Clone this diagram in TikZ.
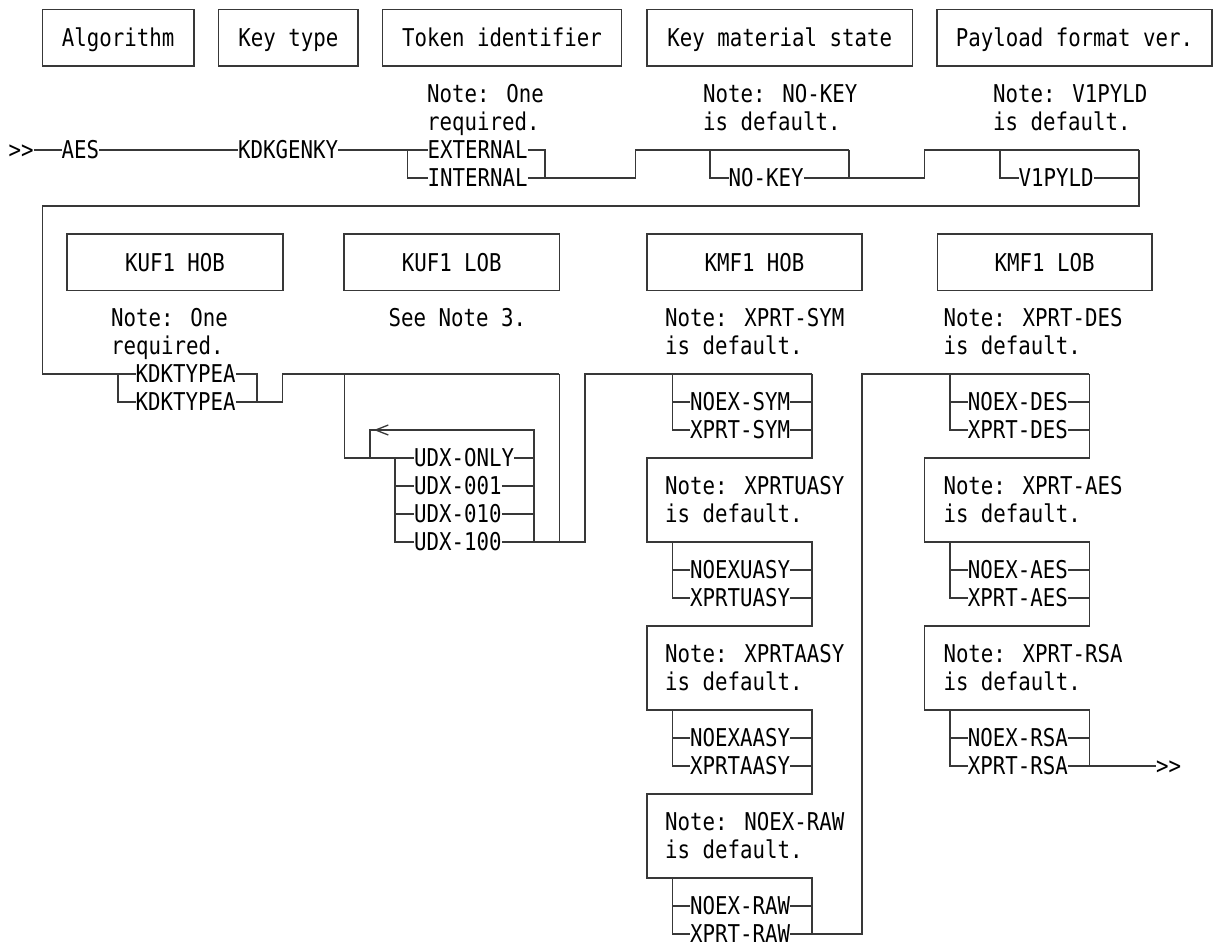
\documentclass[tikz,border=0pt]{standalone}
\usepackage{fontspec}
\newfontfamily\mono[FakeStretch=0.847]{DejaVu Sans Mono}
\newcommand\dfont{\mono\fontsize{24.5}{28}\selectfont}
\begin{document}
\begin{tikzpicture}[x=1pt,y=-1pt,
  ln/.style={draw=black!78,line width=1.5pt},
  lbl/.style={font=\dfont,inner sep=0pt,text height=17.86pt,text depth=0pt,anchor=west},
  hdr/.style={draw=black!78,line width=1.5pt,font=\dfont,inner sep=0pt,minimum height=56.5pt,text height=17.86pt,text depth=0pt}]
\useasboundingbox (0,0) rectangle (1215,946);
% ---------- header boxes, row 1
\node[hdr,minimum width=151.7pt] (alg) at (118.15,37.5) {Algorithm};
\node[hdr,minimum width=139.2pt] (ktp) at (288.3,37.5) {Key type};
\node[hdr,minimum width=239.2pt] (tid) at (502,37.5) {Token identifier};
\node[hdr,minimum width=265.5pt] (kms) at (779.75,37.5) {Key material state};
\node[hdr,minimum width=275pt] (pfv) at (1074.5,37.5) {Payload format ver.};
% ---------- notes, row 1
\node[lbl] (n1a) at (427,94) {Note: One};
\node[lbl] (n1b) at (427,122) {required.};
\node[lbl] (n2a) at (703,94) {Note: NO-KEY};
\node[lbl] (n2b) at (703,122) {is default.};
\node[lbl] (n3a) at (993,94) {Note: V1PYLD};
\node[lbl] (n3b) at (993,122) {is default.};
% ---------- items, row 1
\node[lbl] (st) at (8.5,150) {>\kern0pt>};
\node[lbl] (aes) at (61.5,150) {AES};
\node[lbl] (kdkg) at (238,150) {KDKGENKY};
\node[lbl] (ext) at (427.5,150) {EXTERNAL};
\node[lbl] (int) at (427.5,178) {INTERNAL};
\node[lbl] (nokey) at (728.5,178) {NO-KEY};
\node[lbl] (v1) at (1018.5,178) {V1PYLD};
\coordinate (tkl) at (407.3,150);
\coordinate (tkr) at (545,150);
\coordinate (mk1) at (635.3,178);
\coordinate (mkb) at (709.8,150);
\coordinate (mkr) at (849,150);
\coordinate (pf1) at (924.7,178);
\coordinate (pfb) at (1000,150);
\coordinate (pfr) at (1139.2,150);
\coordinate (rtr) at (1139.2,206);
\coordinate (rtl) at (42.3,206);
% ---------- header boxes, row 2
\node[hdr,minimum width=216pt] (kuh) at (175,262.3) {KUF1 HOB};
\node[hdr,minimum width=215.5pt] (kul) at (451.75,262.3) {KUF1 LOB};
\node[hdr,minimum width=215pt] (kmh) at (754.5,262.3) {KMF1 HOB};
\node[hdr,minimum width=214.7pt] (kml) at (1044.65,262.3) {KMF1 LOB};
% ---------- notes, row 2
\node[lbl] (m1a) at (111,318) {Note: One};
\node[lbl] (m1b) at (111,346) {required.};
\node[lbl] (m2a) at (388.5,318) {See Note 3.};
\node[lbl] (h0a) at (665,318) {Note: XPRT-SYM};
\node[lbl] (h0b) at (665,346) {is default.};
\node[lbl] (h1a) at (665,486) {Note: XPRTUASY};
\node[lbl] (h1b) at (665,514) {is default.};
\node[lbl] (h2a) at (665,654) {Note: XPRTAASY};
\node[lbl] (h2b) at (665,682) {is default.};
\node[lbl] (h3a) at (665,822) {Note: NOEX-RAW};
\node[lbl] (h3b) at (665,850) {is default.};
\node[lbl] (d0a) at (943.3,318) {Note: XPRT-DES};
\node[lbl] (d0b) at (943.3,346) {is default.};
\node[lbl] (d1a) at (943.3,486) {Note: XPRT-AES};
\node[lbl] (d1b) at (943.3,514) {is default.};
\node[lbl] (d2a) at (943.3,654) {Note: XPRT-RSA};
\node[lbl] (d2b) at (943.3,682) {is default.};
% ---------- items, row 2
\node[lbl] (ka) at (135.5,374) {KDKTYPEA};
\node[lbl] (kb) at (135.5,402) {KDKTYPEA};
\node[lbl] (u1) at (414,458) {UDX-ONLY};
\node[lbl] (u2) at (414,486) {UDX-001};
\node[lbl] (u3) at (414,514) {UDX-010};
\node[lbl] (u4) at (414,542) {UDX-100};
\node[lbl] (h1n) at (690,402) {NOEX-SYM};
\node[lbl] (h1x) at (690,430) {XPRT-SYM};
\node[lbl] (h2n) at (690,570) {NOEXUASY};
\node[lbl] (h2x) at (690,598) {XPRTUASY};
\node[lbl] (h3n) at (690,738) {NOEXAASY};
\node[lbl] (h3x) at (690,766) {XPRTAASY};
\node[lbl] (h4n) at (690,906) {NOEX-RAW};
\node[lbl] (h4x) at (690,934) {XPRT-RAW};
\node[lbl] (d1n) at (967.6,402) {NOEX-DES};
\node[lbl] (d1x) at (967.6,430) {XPRT-DES};
\node[lbl] (d2n) at (967.6,570) {NOEX-AES};
\node[lbl] (d2x) at (967.6,598) {XPRT-AES};
\node[lbl] (d3n) at (967.6,738) {NOEX-RSA};
\node[lbl] (d3x) at (967.6,766) {XPRT-RSA};
\node[lbl] (en) at (1156,766) {>\kern0pt>};
\coordinate (kl) at (117.8,374);
\coordinate (kr) at (257,374);
\coordinate (kj) at (282.7,402);
\coordinate (ub) at (344.7,374);
\coordinate (ul) at (370,430);
\coordinate (ubr) at (395,458);
\coordinate (ur) at (534,430);
\coordinate (uo) at (559.3,374);
\coordinate (uj) at (585,542);
\coordinate (hb1) at (672.5,374);
\coordinate (hb2) at (672.5,542);
\coordinate (hb3) at (672.5,710);
\coordinate (hb4) at (672.5,878);
\coordinate (hr1) at (811.8,374);
\coordinate (hr2) at (811.8,542);
\coordinate (hr3) at (811.8,710);
\coordinate (hr4) at (811.8,878);
\coordinate (hc1) at (811.8,458);
\coordinate (hc2) at (811.8,626);
\coordinate (hc3) at (811.8,794);
\coordinate (hl2) at (647,542);
\coordinate (hl3) at (647,710);
\coordinate (hl4) at (647,878);
\coordinate (ho) at (862,934);
\coordinate (db1) at (950.2,374);
\coordinate (db2) at (950.2,542);
\coordinate (db3) at (950.2,710);
\coordinate (dr1) at (1089.4,374);
\coordinate (dr2) at (1089.4,542);
\coordinate (dr3) at (1089.4,710);
\coordinate (dc1) at (1089.4,458);
\coordinate (dc2) at (1089.4,626);
\coordinate (dl2) at (924.7,542);
\coordinate (dl3) at (924.7,710);
% ---------- connectors, row 1
\draw[ln] (st.east) -- (aes.west);
\draw[ln] (aes.east) -- (kdkg.west);
\draw[ln] (kdkg.east) -- (ext.west);
\draw[ln] (tkl) |- (int.west);
\draw[ln] (ext.east) -| (int.east -| tkr);
\draw[ln] (int.east) -- (mk1) |- (mkr);
\draw[ln] (mkb) |- (nokey.west);
\draw[ln] (nokey.east) -| (mkr);
\draw[ln] (nokey.east -| mkr) -- (pf1) |- (pfr);
\draw[ln] (pfb) |- (v1.west);
\draw[ln] (v1.east) -- (v1.east -| pfr);
\draw[ln] (pfr) -- (rtr) -- (rtl) |- (ka.west);
% ---------- connectors, KUF1
\draw[ln] (kl) |- (kb.west);
\draw[ln] (ka.east) -| (kb.east -| kr);
\draw[ln] (kb.east) -- (kj) |- (uo);
\draw[ln] (ub) |- (u1.west);
\draw[ln] (ubr) |- (u4.west);
\draw[ln] (ubr |- u2.west) -- (u2.west);
\draw[ln] (ubr |- u3.west) -- (u3.west);
\draw[ln] (u1.east) -| (ur) -| (u1.west -| ul);
\draw[ln] (ur) -- (u4.east -| ur);
\draw[ln] (u2.east) -- (u2.east -| ur);
\draw[ln] (u3.east) -- (u3.east -| ur);
\draw[ln] (u4.east) -- (uj) |- (hr1);
\draw[ln] (uo) -- (u4.east -| uo);
\draw[ln,line width=1.3pt] (388.3,425) -- (375.7,430) -- (388.3,435);
% ---------- connectors, KMF1 HOB
\draw[ln] (hr1) -- (hc1) -| (hl2) -- (hr2) -- (hc2) -| (hl3) -- (hr3) -- (hc3) -| (hl4) -- (hr4) -- (h4x.east -| hr4) -- (ho) |- (dr1);
\draw[ln] (hb1) |- (h1x.west);
\draw[ln] (hb1 |- h1n.west) -- (h1n.west);
\draw[ln] (hb2) |- (h2x.west);
\draw[ln] (hb2 |- h2n.west) -- (h2n.west);
\draw[ln] (hb3) |- (h3x.west);
\draw[ln] (hb3 |- h3n.west) -- (h3n.west);
\draw[ln] (hb4) |- (h4x.west);
\draw[ln] (hb4 |- h4n.west) -- (h4n.west);
\draw[ln] (h1n.east) -- (h1n.east -| hr1);
\draw[ln] (h1x.east) -- (h1x.east -| hr1);
\draw[ln] (h2n.east) -- (h2n.east -| hr1);
\draw[ln] (h2x.east) -- (h2x.east -| hr1);
\draw[ln] (h3n.east) -- (h3n.east -| hr1);
\draw[ln] (h3x.east) -- (h3x.east -| hr1);
\draw[ln] (h4n.east) -- (h4n.east -| hr1);
\draw[ln] (h4x.east) -- (h4x.east -| hr1);
% ---------- connectors, KMF1 LOB
\draw[ln] (dr1) -- (dc1) -| (dl2) -- (dr2) -- (dc2) -| (dl3) -- (dr3) -- (d3x.east -| dr3);
\draw[ln] (db1) |- (d1x.west);
\draw[ln] (db1 |- d1n.west) -- (d1n.west);
\draw[ln] (db2) |- (d2x.west);
\draw[ln] (db2 |- d2n.west) -- (d2n.west);
\draw[ln] (db3) |- (d3x.west);
\draw[ln] (db3 |- d3n.west) -- (d3n.west);
\draw[ln] (d1n.east) -- (d1n.east -| dr1);
\draw[ln] (d1x.east) -- (d1x.east -| dr1);
\draw[ln] (d2n.east) -- (d2n.east -| dr1);
\draw[ln] (d2x.east) -- (d2x.east -| dr1);
\draw[ln] (d3n.east) -- (d3n.east -| dr1);
\draw[ln] (d3x.east) -- (en.west);
\end{tikzpicture}
\end{document}
